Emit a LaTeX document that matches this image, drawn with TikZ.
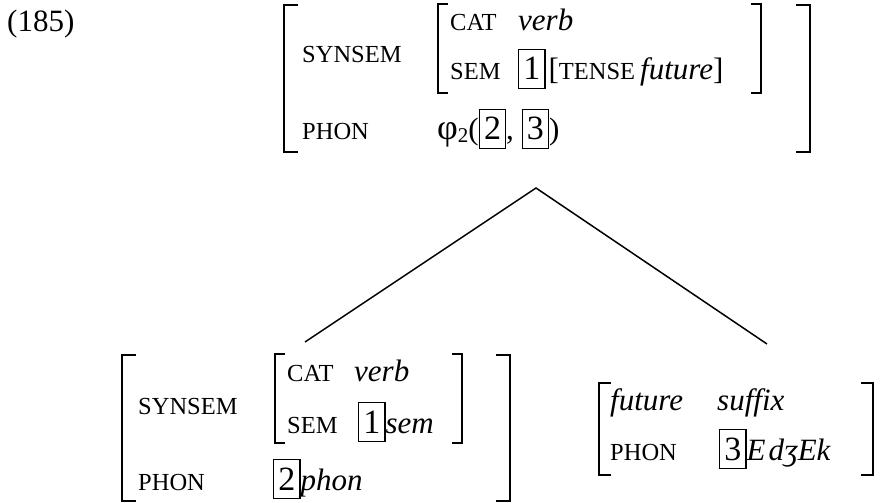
\documentclass[tikz,border=0pt]{standalone}
\usepackage{fontspec}
\setmainfont{Liberation Serif}
\usepackage{tikz}

% feature labels are set a little smaller than the values
\newcommand{\lbl}[1]{{\fontsize{24.5bp}{24.5bp}\selectfont #1}}
% boxed tags
\newcommand{\tagbox}[1]{{\setlength{\fboxsep}{0pt}\setlength{\fboxrule}{1.2bp}%
  \fbox{\makebox[25bp]{\rule[-8bp]{0pt}{38bp}\fontsize{34bp}{34bp}\selectfont #1}}}}
% one square bracket: x, top, bottom, tick
\newcommand{\avmbrk}[5][]{\draw[#1] (#2+#5,#3) -- (#2,#3) -- (#2,#4) -- (#2+#5,#4);}

\begin{document}
\begin{tikzpicture}[
    x=1bp, y=-1bp,
    txt/.style={anchor=base west, inner sep=0pt,
        font=\fontsize{31bp}{31bp}\selectfont},
    outer/.style={line width=2.2bp},
    inner/.style={line width=1.4bp},
    branch/.style={line width=1.5bp}
]
\useasboundingbox (0,0) rectangle (882,503);

\node[txt] (num) at (7,32) {(185)};

% mother
\avmbrk[outer]{284}{5}{152}{14}
\avmbrk[outer]{810}{5}{152}{-14}
\avmbrk[inner]{438}{4}{93}{10}
\avmbrk[inner]{761}{4}{93}{-10}
\node[txt] (mSynsem) at (302,63) {\lbl{SYNSEM}};
\node[txt] (mCat) at (450,31) {\lbl{CAT}};
\node[txt] (mVerb) at (518,31) {\textit{verb}};
\node[txt] (mSem) at (450,80) {\lbl{SEM}};
\node[txt] (mSemVal) at (518,80)
    {\tagbox{1}\kern3bp[\lbl{TENSE}\hspace{5bp}\textit{future}]};
\node[txt] (mPhon) at (302,140) {\lbl{PHON}};
\node[txt] (mPhonVal) at (437,140)
    {{\fontsize{36bp}{36bp}\selectfont φ}\raisebox{-3bp}{\fontsize{21bp}{21bp}\selectfont 2}(\tagbox{2}, \tagbox{3})};

% stem daughter
\avmbrk[outer]{122}{355}{501}{14}
\avmbrk[outer]{510}{355}{501}{-14}
\avmbrk[inner]{275}{354}{443}{10}
\avmbrk[inner]{462}{354}{443}{-10}
\node[txt] (sSynsem) at (138,414) {\lbl{SYNSEM}};
\node[txt] (sCat) at (287,381) {\lbl{CAT}};
\node[txt] (sVerb) at (354,381) {\textit{verb}};
\node[txt] (sSem) at (287,433) {\lbl{SEM}};
\node[txt] (sSemVal) at (358,433) {\tagbox{1}\textit{sem}};
\node[txt] (sPhon) at (138,490) {\lbl{PHON}};
\node[txt] (sPhonVal) at (273,490) {\tagbox{2}\textit{phon}};

% suffix daughter
\avmbrk[inner]{599}{383}{475}{12}
\avmbrk[inner]{873}{383}{475}{-12}
\node[txt] (fType) at (610,410) {\textit{future}};
\node[txt] (fSuffix) at (717,410) {\textit{suffix}};
\node[txt] (fPhon) at (610,460) {\lbl{PHON}};
\node[txt] (fPhonVal) at (719,460) {\tagbox{3}\textit{E\kern3bp dʒEk}};

% branches
\coordinate (mother) at (536,188);
\coordinate (stem) at (305,342);
\coordinate (suffix) at (767,344);
\draw[branch] (stem) -- (mother) -- (suffix);
\end{tikzpicture}
\end{document}
